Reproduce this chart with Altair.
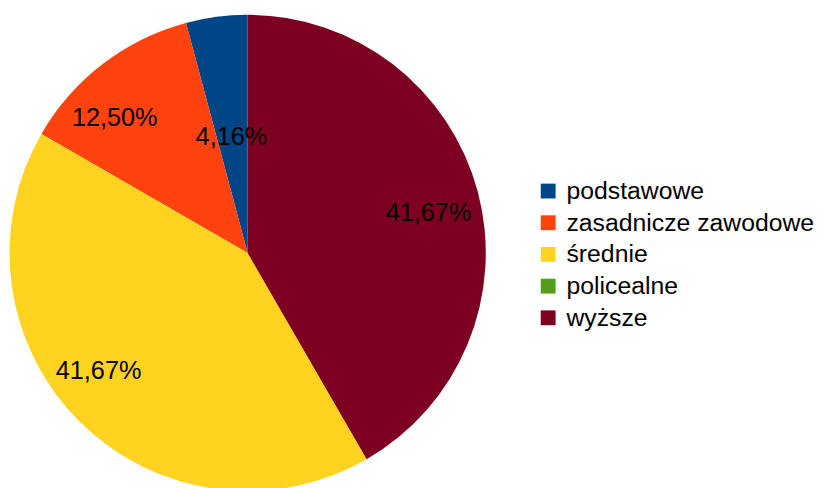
import altair as alt
import pandas as pd

categories = ["podstawowe", "zasadnicze zawodowe", "średnie", "policealne", "wyższe"]
counts = [1, 3, 10, 0, 10]
pct_labels = ["4,16%", "12,50%", "41,67%", "", "41,67%"]
colors = ["#004586", "#ff420e", "#ffd320", "#579d1c", "#7e0021"]

# LibreOffice draws slices counter-clockwise from 12 o'clock; Vega draws clockwise.
draw_order = list(reversed(categories))

df = pd.DataFrame({"kat": categories, "n": counts, "etykieta": pct_labels})
df["kolejnosc"] = [draw_order.index(c) for c in categories]

CX, CY, R = 242, 245, 240.5
FONT = "Liberation Sans"

base = alt.Chart(df).encode(
    theta=alt.Theta("n:Q", stack=True),
    order=alt.Order("kolejnosc:Q"),
)

pie = base.mark_arc(outerRadius=R, x=CX, y=CY).encode(
    color=alt.Color(
        "kat:N",
        scale=alt.Scale(domain=categories, range=colors),
        legend=alt.Legend(
            title=None,
            orient="none",
            legendX=533,
            legendY=170,
            symbolType="square",
            symbolSize=225,
            symbolStrokeWidth=0,
            labelFontSize=25,
            labelFont=FONT,
            labelColor="black",
            labelLimit=0,
            rowPadding=6,
            labelOffset=6,
            padding=0,
            symbolOffset=0,
        ),
    )
)


def label_layer(cat, radius, dx, dy):
    return (
        base.mark_text(
            radius=radius, x=CX, y=CY, dx=dx, dy=dy,
            fontSize=25.5, font=FONT, color="black", baseline="middle", align="center",
        )
        .encode(text=alt.Text("t:N"))
        .transform_calculate(t=f"datum.kat == '{cat}' ? datum.etykieta : ''")
    )


labels = [
    label_layer("wyższe", 186, 3, 8),
    label_layer("średnie", 186, -19, -12),
    label_layer("zasadnicze zawodowe", 186, -21, 11),
    label_layer("podstawowe", 118, -1, 0),
]

chart = (
    alt.layer(pie, *labels)
    .properties(width=818, height=480, padding=0, autosize=alt.AutoSizeParams(type="none"))
    .configure_view(strokeWidth=0)
)

chart.save("out.html", embed_options={"renderer": "svg", "actions": False})
